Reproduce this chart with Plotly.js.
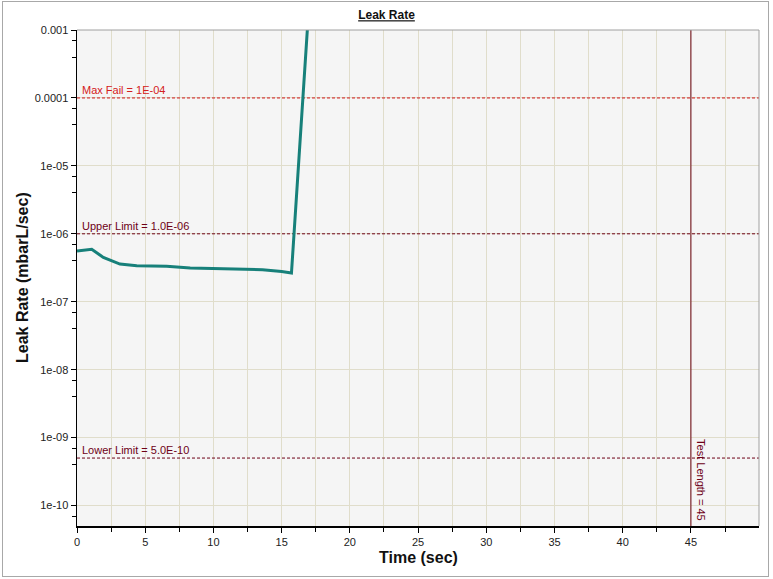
<!DOCTYPE html>
<html>
<head>
<meta charset="utf-8">
<script src="https://cdn.plot.ly/plotly-3.0.1.min.js"></script>
<style>
  html, body { margin: 0; padding: 0; background: #fff; }
  #wrap { position: relative; width: 773px; height: 579px; }
  #chart { position: absolute; left: 0; top: 0; width: 773px; height: 579px; }
  #frame { position: absolute; left: 2px; top: 1px; width: 765px; height: 574px;
           border: 1px solid #a8a8a8; pointer-events: none; }
</style>
</head>
<body>
<div id="wrap">
  <div id="chart"></div>
  <div id="frame"></div>
</div>
<script>
// ---- data ----
const timeSec = [0, 1.08, 1.93, 3.15, 4.38, 6.57, 8.3, 11.4, 13.6, 15.0, 15.72, 17.0];
const leakRate = [5.6e-7, 5.9e-7, 4.5e-7, 3.58e-7, 3.39e-7, 3.33e-7, 3.15e-7, 3.05e-7, 2.96e-7, 2.78e-7, 2.64e-7, 2.3e-3];

const maxFail = 1e-4;
const upperLimit = 1e-6;
const lowerLimit = 5e-10;
const testLength = 45;

const xTickVals = [0, 5, 10, 15, 20, 25, 30, 35, 40, 45];
const xMinorVals = [2.5, 7.5, 12.5, 17.5, 22.5, 27.5, 32.5, 37.5, 42.5, 47.5];
const yTickVals = [1e-3, 1e-4, 1e-5, 1e-6, 1e-7, 1e-8, 1e-9, 1e-10];
const yTickText = ["0.001", "0.0001", "1e-05", "1e-06", "1e-07", "1e-08", "1e-09", "1e-10"];
const yMinorVals = [7e-4, 4e-4, 7e-5, 4e-5, 7e-6, 4e-6, 7e-7, 4e-7, 7e-8, 4e-8, 7e-9, 4e-9, 7e-10, 4e-10, 7e-11];

const xRange = [0, 49.99];
const yRangeVals = [5e-11, 1e-3];

const gridColor = '#e0ddcb';
const limitColor = '#6e0016';
const tickFont = { family: 'Liberation Sans, Arial, sans-serif', size: 11, color: '#222' };

const traces = [
  { x: [xRange[0], 50], y: [maxFail, maxFail], mode: 'lines',
    line: { color: '#d01818', width: 1, dash: '3px,2px' }, hoverinfo: 'skip' },
  { x: [xRange[0], 50], y: [upperLimit, upperLimit], mode: 'lines',
    line: { color: limitColor, width: 1, dash: '3px,2px' }, hoverinfo: 'skip' },
  { x: [xRange[0], 50], y: [lowerLimit, lowerLimit], mode: 'lines',
    line: { color: limitColor, width: 1, dash: '3px,2px' }, hoverinfo: 'skip' },
  { x: [testLength, testLength], y: [1e-12, 1e-1], mode: 'lines',
    line: { color: '#6a0010', width: 1 }, hoverinfo: 'skip' },
  { x: timeSec, y: leakRate, mode: 'lines',
    line: { color: '#17807a', width: 3 } }
];

const lab = (t, c) => ({ text: t, font: { family: 'Liberation Sans, Arial, sans-serif', size: 11, color: c } });

const layout = {
  width: 773, height: 579,
  margin: { l: 77, r: 14, t: 30, b: 53 },
  paper_bgcolor: '#ffffff',
  plot_bgcolor: '#f5f5f5',
  showlegend: false,
  title: {
    text: '<b><u>Leak Rate</u></b>',
    font: { family: 'Liberation Sans, Arial, sans-serif', size: 12, color: '#111' },
    x: 0.5, xref: 'container', xanchor: 'center',
    y: 0.974, yref: 'container', yanchor: 'middle'
  },
  xaxis: {
    range: xRange, type: 'linear',
    tickmode: 'array', tickvals: xTickVals, ticktext: xTickVals.map(String),
    ticks: 'outside', ticklen: 5, tickcolor: '#000', tickwidth: 1,
    showline: true, linecolor: '#000', linewidth: 1.5,
    showgrid: true, gridcolor: gridColor, gridwidth: 1, zeroline: false,
    tickfont: tickFont,
    minor: { tickmode: 'array', tickvals: xMinorVals, ticks: 'outside', ticklen: 4,
             tickcolor: '#000', showgrid: true, gridcolor: gridColor, gridwidth: 1 }
  },
  yaxis: {
    type: 'log', range: yRangeVals.map(Math.log10),
    tickmode: 'array', tickvals: yTickVals, ticktext: yTickText,
    ticks: 'outside', ticklen: 5, tickcolor: '#000', tickwidth: 1,
    showline: true, linecolor: '#000', linewidth: 1.5,
    showgrid: true, gridcolor: gridColor, gridwidth: 1, zeroline: false,
    tickfont: tickFont,
    minor: { tickmode: 'array', tickvals: yMinorVals, ticks: 'outside', ticklen: 4,
             tickcolor: '#000', showgrid: false }
  },
  shapes: [
    { type: 'line', xref: 'paper', yref: 'paper', x0: 0, x1: 1, y0: 1, y1: 1,
      line: { color: '#a0a0a0', width: 1 } },
    { type: 'line', xref: 'paper', yref: 'paper', x0: 1, x1: 1, y0: 0, y1: 1,
      line: { color: '#a0a0a0', width: 1 } }
  ],
  annotations: [
    Object.assign({ x: 0, y: Math.log10(maxFail), xref: 'x', yref: 'y', xanchor: 'left', yanchor: 'bottom',
      xshift: 3, yshift: 0, showarrow: false }, lab('Max Fail = 1E-04', '#d42020')),
    Object.assign({ x: 0, y: Math.log10(upperLimit), xref: 'x', yref: 'y', xanchor: 'left', yanchor: 'bottom',
      xshift: 3, yshift: 0, showarrow: false }, lab('Upper Limit = 1.0E-06', limitColor)),
    Object.assign({ x: 0, y: Math.log10(lowerLimit), xref: 'x', yref: 'y', xanchor: 'left', yanchor: 'bottom',
      xshift: 3, yshift: 0, showarrow: false }, lab('Lower Limit = 5.0E-10', limitColor)),
    Object.assign({ x: testLength, y: 0, xref: 'x', yref: 'paper', xanchor: 'left', yanchor: 'bottom',
      xshift: 2, yshift: 3, textangle: 90, showarrow: false }, lab('Test Length = ' + testLength, limitColor)),
    { text: '<b>Leak Rate (mbarL/sec)</b>', xref: 'paper', yref: 'paper',
      x: -0.0806, y: 0.5, xanchor: 'center', yanchor: 'middle', textangle: -90, showarrow: false,
      font: { family: 'Liberation Sans, Arial, sans-serif', size: 16, color: '#111' } },
    { text: '<b>Time (sec)</b>', xref: 'paper', yref: 'paper',
      x: 0.5, y: -0.0625, xanchor: 'center', yanchor: 'middle', showarrow: false,
      font: { family: 'Liberation Sans, Arial, sans-serif', size: 16, color: '#111' } }
  ]
};

Plotly.newPlot('chart', traces, layout, { displayModeBar: false, staticPlot: true });
</script>
</body>
</html>
